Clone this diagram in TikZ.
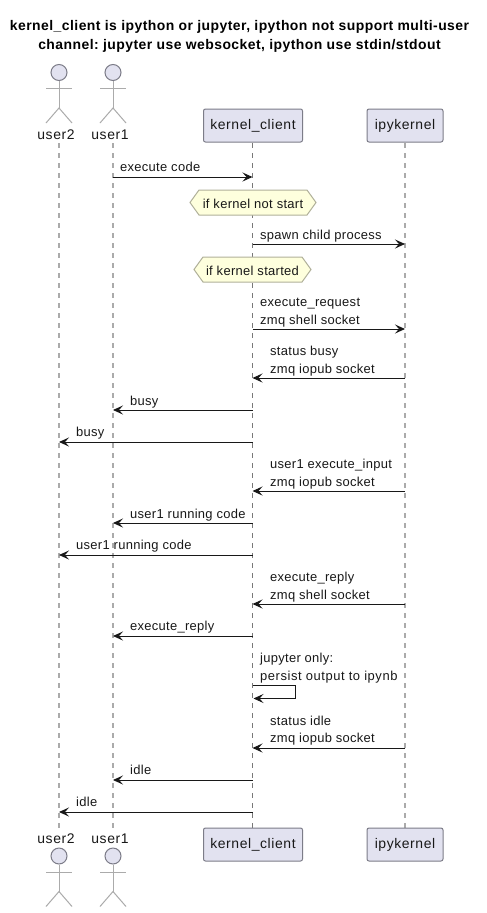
\documentclass[tikz,border=0pt]{standalone}
\usepackage{fontspec}
\setmainfont{Liberation Sans}
\usetikzlibrary{arrows.meta,shapes.misc}
\frenchspacing
\definecolor{partfill}{HTML}{E2E2F0}
\definecolor{partline}{HTML}{7C7C88}
\definecolor{ink}{HTML}{181818}
\definecolor{life}{HTML}{ABABAB}
\definecolor{hexfill}{HTML}{FEFFDD}
\definecolor{hexline}{HTML}{B0B09A}
\newcommand{\trk}[2]{\fontsize{#1}{#1}\selectfont\addfontfeature{LetterSpace=#2}}
\tikzset{
  part/.style={draw=partline,fill=partfill,rounded corners=2bp,line width=1bp,minimum height=33bp,inner sep=0pt,font=\trk{14}{4.2},text=ink},
  lifeline/.style={draw=life,line width=1.2bp,dash pattern=on 5bp off 5bp},
  msgline/.style={draw=ink,line width=.9bp,-{Stealth[length=10bp,width=9bp,inset=4bp]}},
  msgtext/.style={anchor=base west,inner sep=0pt,font=\trk{13}{2.3},text=ink},
  actortext/.style={anchor=base,inner sep=0pt,font=\trk{14}{4.2},text=ink},
  titletext/.style={anchor=base,inner sep=0pt,font=\trk{14}{3.2}\bfseries,text=black},
  hexnote/.style={draw=hexline,fill=hexfill,line width=1bp},
  stick/.style={draw=life,line width=1bp},
  headstyle/.style={draw=partline,fill=partfill,line width=1bp,circle,minimum size=16bp,inner sep=0pt},
}
\newcommand{\actorfig}[3]{% name, x, head y
  \node[headstyle] (#1) at (#2,#3) {};
  \draw[stick] (#1.south) -- ++(0,27);
  \draw[stick] ([xshift=-13bp,yshift=-7.5bp]#1.south) -- ++(26,0);
  \draw[stick] ([xshift=-13bp,yshift=-42bp]#1.south) -- ([yshift=-27bp]#1.south) -- ([xshift=13bp,yshift=-42bp]#1.south);
}
\newcommand{\hexagon}[6]{% name, x1,x2,y1,y2,text
  \path[hexnote] (#2,{(#4+#5)/2}) -- (#2+9,#4) -- (#3-9,#4) -- (#3,{(#4+#5)/2}) -- (#3-9,#5) -- (#2+9,#5) -- cycle;
  \node[inner sep=0pt,anchor=base,font=\trk{13}{2.4},text=ink] (#1) at ({(#2+#3)/2},#5-7) {#6};
}
\newcommand{\msg}[4]{% from, to, y, name
  \coordinate (#4a) at (#1 |- 0,#3);
  \coordinate (#4b) at (#2 |- 0,#3);
  \draw[msgline] (#4a) -- ([xshift=\ifnum\pdfstrcmp{#1}{kcA}=0 -1bp\else\ifnum\pdfstrcmp{#2}{ipA}=0 -1bp\else 1bp\fi\fi]#4b);
}
\begin{document}
\begin{tikzpicture}[x=1bp,y=-1bp]
\useasboundingbox (0,0) rectangle (487,913);
\fill[white] (0,0) rectangle (487,913);
\node[titletext] (title1) at (239.5,30) {kernel\_client is ipython or jupyter, ipython not support multi-user};
\node[titletext] (title2) at (239.5,49) {channel: jupyter use websocket, ipython use stdin/stdout};
% lifeline anchors
\coordinate (uA) at (59,143); \coordinate (uB) at (113,143);
\coordinate (kcA) at (252.5,143); \coordinate (ipA) at (405,143);
\coordinate (uAe) at (59,828); \coordinate (uBe) at (113,828);
\coordinate (kcAe) at (252.5,828); \coordinate (ipAe) at (405,828);
\draw[lifeline] (uA) -- (uAe);
\draw[lifeline] (uB) -- (uBe);
\draw[lifeline,line width=.8bp,draw=life!70!black] (kcA) -- (kcAe);
\draw[lifeline] (ipA) -- (ipAe);
% participants
\node[part,minimum width=99bp] (kctop) at (253,125.5) {kernel\_client};
\node[part,minimum width=76bp] (iptop) at (405,125.5) {ipykernel};
\node[part,minimum width=99bp] (kcbot) at (253,844.5) {kernel\_client};
\node[part,minimum width=76bp] (ipbot) at (405,844.5) {ipykernel};
% actors
\actorfig{headAt}{59}{72.5}
\actorfig{headBt}{113}{72.5}
\node[actortext] (labAt) at (56,139) {user2};
\node[actortext] (labBt) at (110,139) {user1};
\node[actortext] (labAb) at (56,843) {user2};
\node[actortext] (labBb) at (110,843) {user1};
\actorfig{headAb}{59}{856}
\actorfig{headBb}{113}{856}
% hexagons
\hexagon{hexa}{190}{316}{190}{215}{if kernel not start}
\hexagon{hexb}{194}{311}{257}{282}{if kernel started}
% messages
\msg{uB}{kcA}{177}{m1}
\node[msgtext] (t1) at (120,171) {execute code};
\msg{kcA}{ipA}{244}{m2}
\node[msgtext] (t2) at (260,239) {spawn child process};
\msg{kcA}{ipA}{329}{m3}
\node[msgtext] (t3a) at (260,306) {execute\_request};
\node[msgtext] (t3b) at (260,324) {zmq shell socket};
\msg{ipA}{kcA}{378}{m4}
\node[msgtext] (t4a) at (270,355) {status busy};
\node[msgtext] (t4b) at (270,373) {zmq iopub socket};
\msg{kcA}{uB}{410}{m5}
\node[msgtext] (t5) at (130,405) {busy};
\msg{kcA}{uA}{442}{m6}
\node[msgtext] (t6) at (76,436) {busy};
\msg{ipA}{kcA}{491}{m7}
\node[msgtext] (t7a) at (270,468) {user1 execute\_input};
\node[msgtext] (t7b) at (270,486) {zmq iopub socket};
\msg{kcA}{uB}{523}{m8}
\node[msgtext] (t8) at (130,518) {user1 running code};
\msg{kcA}{uA}{555}{m9}
\node[msgtext] (t9) at (76,549) {user1 running code};
\msg{ipA}{kcA}{604}{m10}
\node[msgtext] (t10a) at (270,581) {execute\_reply};
\node[msgtext] (t10b) at (270,599) {zmq shell socket};
\msg{kcA}{uB}{636}{m11}
\node[msgtext] (t11) at (130,630) {execute\_reply};
% self message
\coordinate (selfa) at (kcA |- 0,685.5);
\coordinate (selfb) at (253.5,698.5);
\draw[msgline] (selfa) -- (295.5,685.5) -- (295.5,698.5) -- (selfb);
\node[msgtext] (t12a) at (260,662) {jupyter only:};
\node[msgtext,font=\trk{13}{4.3}] (t12b) at (260,680) {persist output to ipynb};
\msg{ipA}{kcA}{748}{m13}
\node[msgtext] (t13a) at (270,725) {status idle};
\node[msgtext] (t13b) at (270,742) {zmq iopub socket};
\msg{kcA}{uB}{780}{m14}
\node[msgtext] (t14) at (130,774) {idle};
\msg{kcA}{uA}{812}{m15}
\node[msgtext] (t15) at (76,806) {idle};
\end{tikzpicture}
\end{document}
